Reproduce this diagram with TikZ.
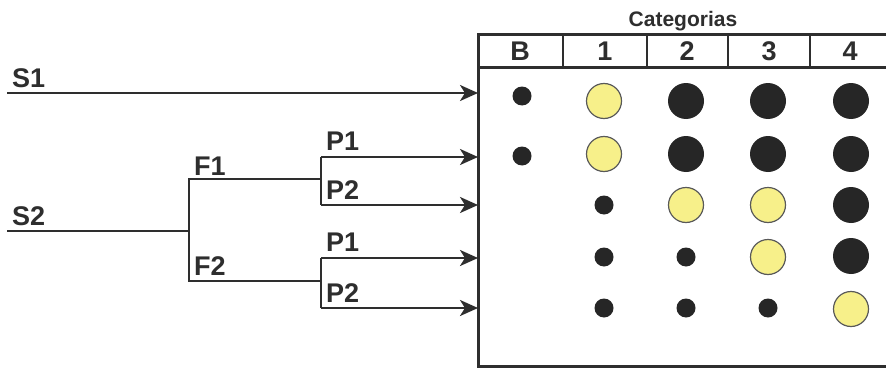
\documentclass[tikz,border=0pt]{standalone}
\usepackage{fontspec}
\setmainfont{Liberation Sans}
\usetikzlibrary{arrows.meta}
\definecolor{ink}{HTML}{2E2E2E}
\definecolor{dotdark}{HTML}{262626}
\definecolor{dotyellow}{HTML}{F7F08A}
\tikzset{
  lbl/.style={font=\bfseries\fontsize{27}{30}\selectfont, text=ink, inner sep=0pt, anchor=base west},
  hdr/.style={font=\bfseries\fontsize{27}{30}\selectfont, text=ink, inner sep=0pt, anchor=base},
  ttl/.style={font=\bfseries\fontsize{21}{24}\selectfont, text=ink, inner sep=0pt, anchor=base},
  wire/.style={draw=ink, line width=2.6pt},
  arr/.style={wire, -{Stealth[length=18pt,width=16pt,inset=5pt]}},
  frame/.style={draw=ink, line width=3pt},
  bigdark/.style={circle, fill=dotdark, minimum size=36pt, inner sep=0pt},
  bigyel/.style={circle, fill=dotyellow, draw=gray!70!black, line width=1.2pt, minimum size=35pt, inner sep=0pt},
  smalldot/.style={circle, fill=dotdark, minimum size=19pt, inner sep=0pt},
}
\begin{document}
\begin{tikzpicture}[x=1pt,y=-1pt]
\useasboundingbox (0,0) rectangle (886,369);
\fill[white] (0,0) rectangle (886,369);

% frame of the table
\draw[frame] (886,35) -- (478,35) -- (478,366) -- (886,366);
\draw[frame] (478,68) -- (886,68);
\foreach \xx in {563,647,728,810} \draw[wire] (\xx,35) -- (\xx,68);

\node[ttl] (cat) at (683,27) {Categorias};
\node[hdr] (hB) at (520,61) {B};
\node[hdr] (h1) at (605,61) {1};
\node[hdr] (h2) at (687,61) {2};
\node[hdr] (h3) at (769,61) {3};
\node[hdr] (h4) at (850,61) {4};

% tree
\coordinate (s1start) at (7,93);
\coordinate (e1) at (478,93);
\coordinate (s2start) at (7,231);
\coordinate (j0) at (189,231);
\coordinate (f1a) at (189,179);
\coordinate (f1b) at (321,179);
\coordinate (f2a) at (189,281);
\coordinate (f2b) at (321,281);
\coordinate (p1a) at (321,157);
\coordinate (p2a) at (321,205);
\coordinate (p3a) at (321,258);
\coordinate (p4a) at (321,308);
\coordinate (e2) at (478,157);
\coordinate (e3) at (478,205);
\coordinate (e4) at (478,258);
\coordinate (e5) at (478,308);

\draw[arr] (s1start) -- (e1);
\draw[wire] (s2start) -- (j0);
\draw[wire] (f1b) -- (f1a) -- (f2a) -- (f2b);
\draw[wire] (p1a) -- (p2a);
\draw[wire] (p3a) -- (p4a);
\draw[arr] (p1a) -- (e2);
\draw[arr] (p2a) -- (e3);
\draw[arr] (p3a) -- (e4);
\draw[arr] (p4a) -- (e5);

\node[lbl] (lS1) at (12,87) {S1};
\node[lbl] (lS2) at (12,225) {S2};
\node[lbl] (lF1) at (194,175) {F1};
\node[lbl] (lF2) at (194,275) {F2};
\node[lbl] (lP1a) at (326,150) {P1};
\node[lbl] (lP2a) at (326,199) {P2};
\node[lbl] (lP1b) at (326,251) {P1};
\node[lbl] (lP2b) at (326,302) {P2};

% row 1
\node[smalldot] (r1b) at (522,96) {};
\node[bigyel] (r11) at (604,101) {};
\node[bigdark] (r12) at (686,101) {};
\node[bigdark] (r13) at (768,101) {};
\node[bigdark] (r14) at (851,101) {};
% row 2
\node[smalldot] (r2b) at (522,156) {};
\node[bigyel] (r21) at (604,154) {};
\node[bigdark] (r22) at (686,154) {};
\node[bigdark] (r23) at (768,154) {};
\node[bigdark] (r24) at (851,154) {};
% row 3
\node[smalldot] (r31) at (604,205) {};
\node[bigyel] (r32) at (686,205) {};
\node[bigyel] (r33) at (768,205) {};
\node[bigdark] (r34) at (851,205) {};
% row 4
\node[smalldot] (r41) at (604,257) {};
\node[smalldot] (r42) at (686,257) {};
\node[bigyel] (r43) at (768,257) {};
\node[bigdark] (r44) at (851,256) {};
% row 5
\node[smalldot] (r51) at (604,308) {};
\node[smalldot] (r52) at (686,308) {};
\node[smalldot] (r53) at (768,308) {};
\node[bigyel] (r54) at (851,309) {};
\end{tikzpicture}
\end{document}
